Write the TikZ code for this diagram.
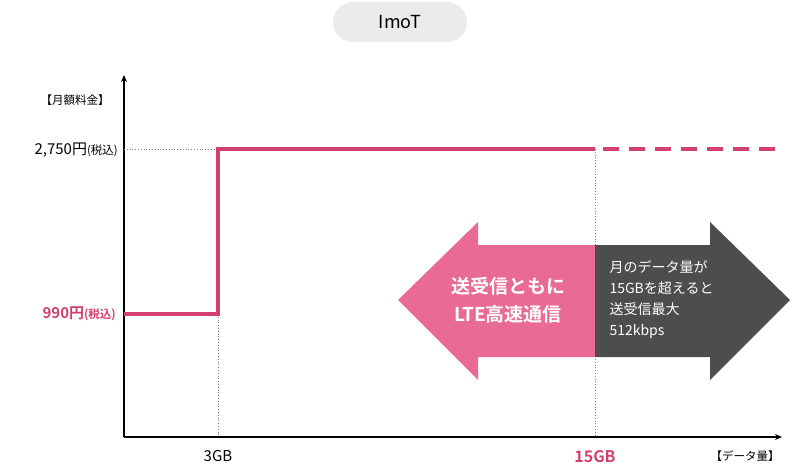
\documentclass[tikz,border=0pt]{standalone}
\usepackage{fontspec}
\setmainfont{Noto Sans CJK JP}
\newfontfamily\jpb{Noto Sans CJK JP Bold}
\usetikzlibrary{arrows.meta}
\definecolor{pinkline}{HTML}{D1406E}
\definecolor{pinkarrow}{HTML}{E96A93}
\definecolor{darkarrow}{HTML}{4D4D4D}
\definecolor{pillgray}{HTML}{EBEBEB}
\tikzset{
  axis/.style={line width=1.3pt, -{Stealth[length=7pt,width=6pt]}},
  guide/.style={gray, dotted, line width=0.8pt},
  price/.style={pinkline, line width=4.5pt},
  lbl/.style={font=\fontsize{15}{17}\selectfont, inner sep=0pt},
  small/.style={font=\fontsize{11.5}{13}\selectfont, inner sep=0pt}
}
\begin{document}
\begin{tikzpicture}[x=1pt,y=-1pt]
\useasboundingbox (0,0) rectangle (800,473);
\node[fill=pillgray, rounded corners=20pt, minimum width=134pt, minimum height=40pt, font=\fontsize{18}{20}\selectfont] (pill) at (400,22) {ImoT};
% axes
\coordinate (o) at (124,437);
\coordinate (ytop) at (124,75);
\coordinate (xend) at (782,437);
\draw[axis] (o) -- (ytop);
\draw[axis] (o) -- (xend);
% guides
\coordinate (g1) at (218,314); \coordinate (g1b) at (218,437);
\coordinate (g2) at (595,149); \coordinate (g2b) at (595,437);
\coordinate (h1) at (124,149); \coordinate (h1b) at (218,149);
\draw[guide] (g1) -- (g1b);
\draw[guide] (g2) -- (g2b);
\draw[guide] (h1) -- (h1b);
% price line
\coordinate (p0) at (124,314);
\coordinate (p3) at (780,149);
\draw[price] (p0) -- (g1) -- (h1b) -- (g2);
\draw[price, dash pattern=on 16pt off 10pt] ([xshift=8pt]g2) -- (p3);
% arrows
\fill[pinkarrow] (398,300) -- (478,222) -- (478,245) -- (595,245) -- (595,357) -- (478,357) -- (478,380) -- cycle;
\fill[darkarrow] (595,245) -- (710,245) -- (710,222) -- (790,300) -- (710,380) -- (710,357) -- (595,357) -- cycle;
\node[white, align=center, font=\jpb\fontsize{19}{28}\selectfont] (ta) at (508,300) {送受信ともに\\LTE高速通信};
\node[white, align=left, anchor=west, font=\fontsize{14}{21}\selectfont] (tb) at (606,300) {月のデータ量が\\15GBを超えると\\送受信最大\\512kbps};
% labels
\node[small] (yl) at (75,100) {【月額料金】};
\node[lbl, anchor=east] (l1) at (118,150) {2,750円\fontsize{11.5}{13}\selectfont(税込)};
\node[lbl, anchor=east, pinkline, font=\jpb\fontsize{15}{17}\selectfont] (l2) at (116,314) {990円\fontsize{11.5}{13}\selectfont(税込)};
\node[lbl] (x1) at (218,456) {3GB};
\node[lbl, pinkline, font=\jpb\fontsize{16}{18}\selectfont] (x2) at (595,457) {15GB};
\node[small] (xl) at (745,456) {【データ量】};
\end{tikzpicture}
\end{document}
